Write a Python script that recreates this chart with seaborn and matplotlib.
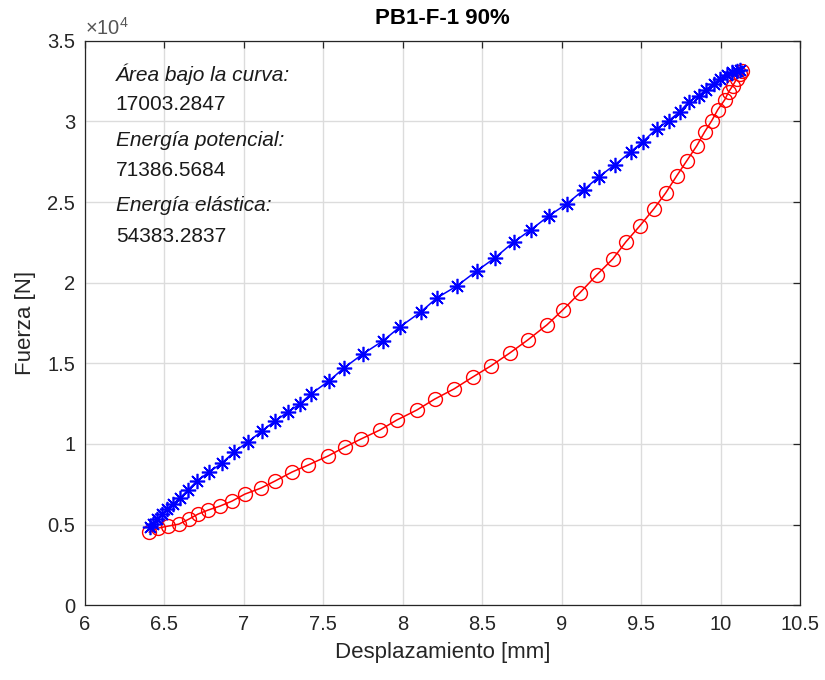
import matplotlib
matplotlib.use("Agg")
import matplotlib.pyplot as plt
import seaborn as sns
import pandas as pd
from matplotlib.ticker import FuncFormatter, MultipleLocator

# ---- data ----
carga_x = [6.409, 6.428, 6.453, 6.484, 6.516, 6.553, 6.597, 6.648, 6.704, 6.780,
           6.862, 6.937, 7.025, 7.113, 7.195, 7.277, 7.352, 7.421, 7.535, 7.629,
           7.748, 7.874, 7.981, 8.113, 8.214, 8.340, 8.465, 8.579, 8.698, 8.805,
           8.918, 9.031, 9.138, 9.233, 9.333, 9.434, 9.509, 9.597, 9.673, 9.742,
           9.799, 9.862, 9.906, 9.956, 9.994, 10.038, 10.069, 10.101, 10.119]
carga_y = [4841, 5028, 5338, 5648, 5959, 6269, 6641, 7138, 7697, 8255,
           8814, 9497, 10117, 10800, 11421, 11980, 12476, 13097, 13904, 14711,
           15580, 16386, 17255, 18187, 19055, 19800, 20731, 21538, 22531, 23276,
           24145, 24890, 25759, 26566, 27311, 28118, 28738, 29545, 30042, 30601,
           31221, 31594, 31966, 32338, 32649, 32897, 33083, 33145, 33207]

descarga_x = [6.403, 6.459, 6.522, 6.591, 6.654, 6.711, 6.774, 6.849, 6.925, 7.006,
              7.107, 7.195, 7.302, 7.403, 7.528, 7.635, 7.736, 7.855, 7.962, 8.088,
              8.201, 8.321, 8.440, 8.553, 8.673, 8.786, 8.906, 9.006, 9.113, 9.220,
              9.321, 9.403, 9.491, 9.579, 9.654, 9.723, 9.786, 9.849, 9.899, 9.943,
              9.981, 10.025, 10.050, 10.075, 10.101, 10.119, 10.132]
descarga_y = [4531, 4779, 4904, 5028, 5338, 5648, 5897, 6145, 6455, 6890,
              7262, 7697, 8255, 8690, 9248, 9807, 10304, 10862, 11483, 12104,
              12786, 13407, 14152, 14835, 15642, 16449, 17380, 18311, 19366, 20483,
              21476, 22531, 23525, 24580, 25573, 26628, 27559, 28490, 29359, 30042,
              30725, 31345, 31842, 32214, 32649, 32959, 33145]

titulo = "PB1-F-1 90%"
xlabel = "Desplazamiento [mm]"
ylabel = "Fuerza [N]"
anotaciones = [("Área bajo la curva:", True), ("17003.2847", False),
               ("Energía potencial:", True), ("71386.5684", False),
               ("Energía elástica:", True), ("54383.2837", False)]

# ---- style ----
sns.set_style("white")
plt.rcParams['font.family'] = ['Liberation Sans', 'DejaVu Sans']
plt.rcParams['mathtext.fontset'] = 'custom'
plt.rcParams['mathtext.rm'] = 'Liberation Sans'
plt.rcParams['mathtext.it'] = 'Liberation Sans:italic'

dark = '#262626'
fig = plt.figure(figsize=(8.25, 6.8), dpi=100)
ax = fig.add_axes([0.103, 0.110, 0.867, 0.830])

df_d = pd.DataFrame({'x': descarga_x, 'y': descarga_y})
df_c = pd.DataFrame({'x': carga_x, 'y': carga_y})

sns.lineplot(data=df_d, x='x', y='y', sort=False, ax=ax, color='red',
             marker='o', markersize=10, markerfacecolor='none',
             markeredgecolor='red', markeredgewidth=1.0, linewidth=1.1)
sns.lineplot(data=df_c, x='x', y='y', sort=False, ax=ax, color='blue',
             marker=(8, 2, 0), markersize=11, markeredgecolor='blue',
             markeredgewidth=1.2, linewidth=1.1)

ax.set_xlim(6, 10.5)
ax.set_ylim(0, 35000)
ax.xaxis.set_major_locator(MultipleLocator(0.5))
ax.yaxis.set_major_locator(MultipleLocator(5000))
ax.xaxis.set_major_formatter(FuncFormatter(lambda v, p: f"{v:g}"))
ax.yaxis.set_major_formatter(FuncFormatter(lambda v, p: f"{v/1e4:g}"))

ax.grid(True, color='#dcdcdc', linewidth=1.0)
ax.set_axisbelow(True)
for s in ax.spines.values():
    s.set_color(dark)
    s.set_linewidth(0.9)
ax.tick_params(direction='in', length=5, width=0.9, colors=dark,
               labelsize=14.5, top=True, right=True, pad=7)

ax.set_xlabel(xlabel, fontsize=16, color=dark, labelpad=6)
ax.set_ylabel(ylabel, fontsize=16, color=dark, labelpad=8)
ax.set_title(titulo, fontsize=16, fontweight='bold', color='black', pad=12)

ax.text(0.0, 1.003, r'$\times10^{4}$', transform=ax.transAxes, ha='left',
        va='bottom', fontsize=14.5, color='#555555')

ypos = [0.940, 0.887, 0.824, 0.771, 0.709, 0.654]
for (txt, it), yy in zip(anotaciones, ypos):
    ax.text(0.043, yy, txt, transform=ax.transAxes, ha='left', va='center',
            fontsize=15, style='italic' if it else 'normal', color='#1a1a1a')

fig.savefig('out.png', dpi=100)
